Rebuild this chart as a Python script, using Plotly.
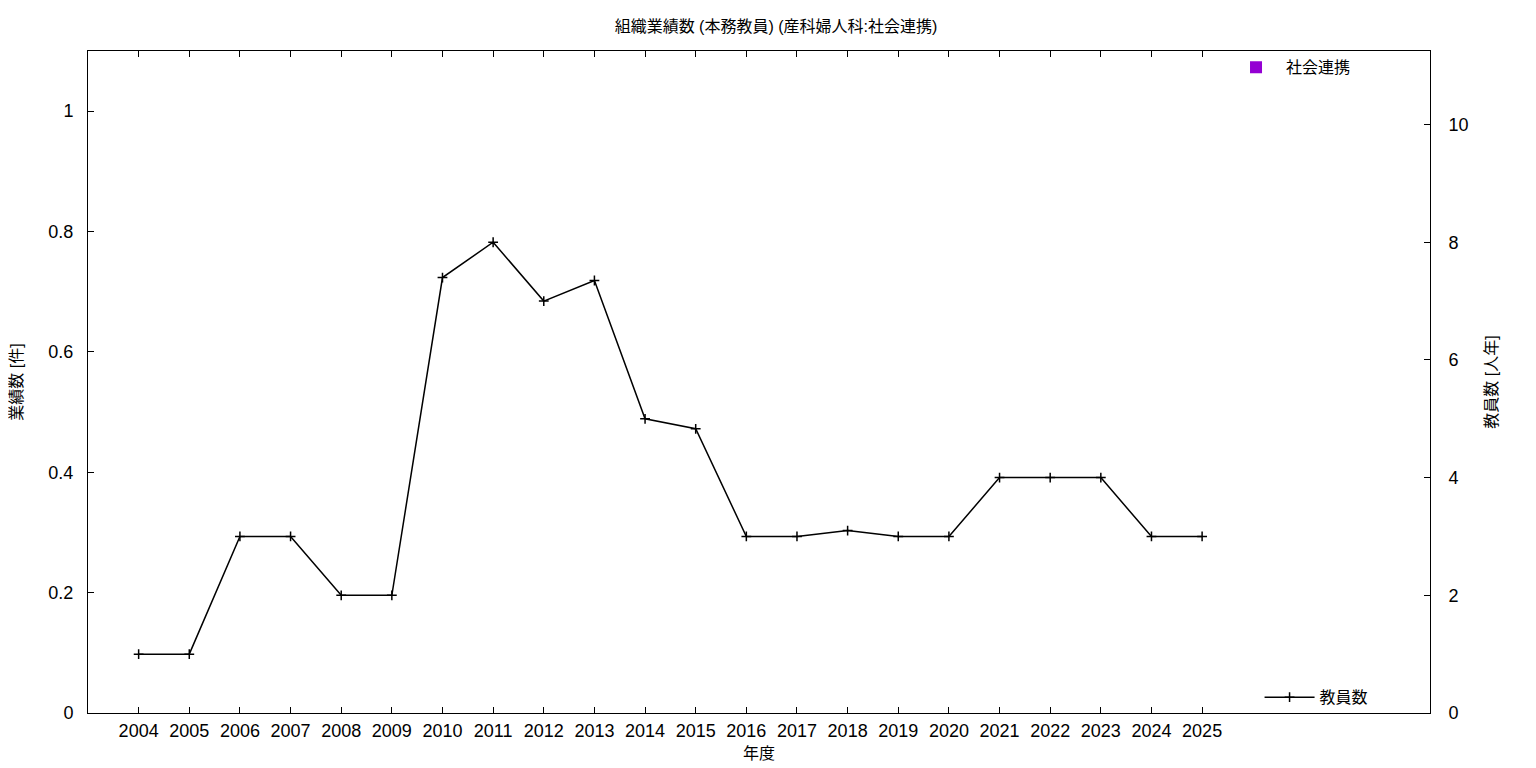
import plotly.graph_objects as go

years = list(range(2004, 2026))
outputs = [0] * len(years)  # 社会連携 (件)
staff = [1, 1, 3, 3, 2, 2, 7.4, 8, 7, 7.35, 5, 4.83, 3, 3, 3.1, 3, 3, 4, 4, 4, 3, 3]  # 教員数 (人年)

font_family = "Liberation Sans, Noto Sans CJK JP, sans-serif"

fig = go.Figure()
fig.add_trace(go.Bar(
    x=years, y=outputs, name="社会連携",
    marker=dict(color="#9400d3", line=dict(color="black", width=0)),
    yaxis="y", legend="legend", showlegend=True,
))
fig.add_trace(go.Scatter(
    x=years, y=staff, name="教員数", mode="lines+markers",
    line=dict(color="black", width=1.5),
    marker=dict(symbol="cross-thin", size=7, line=dict(color="black", width=1.5)),
    yaxis="y2", legend="legend2", showlegend=True,
))

axis_common = dict(
    showgrid=False, zeroline=False, showline=True, linecolor="black", linewidth=1,
    ticks="inside", ticklen=6, tickcolor="black", automargin=False,
    tickfont=dict(size=18, color="black", family=font_family),
)

fig.update_layout(
    width=1536, height=768,
    margin=dict(l=80, r=114, t=43, b=63, autoexpand=False),
    paper_bgcolor="white", plot_bgcolor="white",
    font=dict(family=font_family, color="black"),
    showlegend=True,
    title=dict(text="組織業績数 (本務教員) (産科婦人科:社会連携)", x=0.5, xanchor="center",
               y=0.983, yanchor="top", font=dict(size=16, color="black"), automargin=False),
    xaxis=dict(
        **axis_common, range=[2003, 2029.5], tickvals=years, ticktext=[str(y) for y in years],
        mirror="ticks", ticklabelstandoff=1,
        title=dict(text="年度", font=dict(size=16), standoff=8),
    ),
    yaxis=dict(
        **axis_common, range=[0, 1.1], tickvals=[0, 0.2, 0.4, 0.6, 0.8, 1],
        ticktext=["0", "0.2", "0.4", "0.6", "0.8", "1"], ticklabelstandoff=10,
        title=dict(text="業績数 [件]", font=dict(size=16), standoff=34),
    ),
    yaxis2=dict(
        **axis_common, range=[0, 11.25], tickvals=[0, 2, 4, 6, 8, 10],
        overlaying="y", side="right", ticklabelstandoff=14,
        title=dict(text="教員数 [人年]", font=dict(size=16), standoff=18),
    ),
    legend=dict(x=0.848, y=1.001, xanchor="left", yanchor="top", bgcolor="rgba(0,0,0,0)",
                font=dict(size=16), itemwidth=50, visible=True),
    legend2=dict(x=0.873, y=-0.002, xanchor="left", yanchor="bottom", bgcolor="rgba(0,0,0,0)",
                 font=dict(size=16), itemwidth=50, visible=True),
    bargap=0.4,
)

fig.write_html("out.html")
